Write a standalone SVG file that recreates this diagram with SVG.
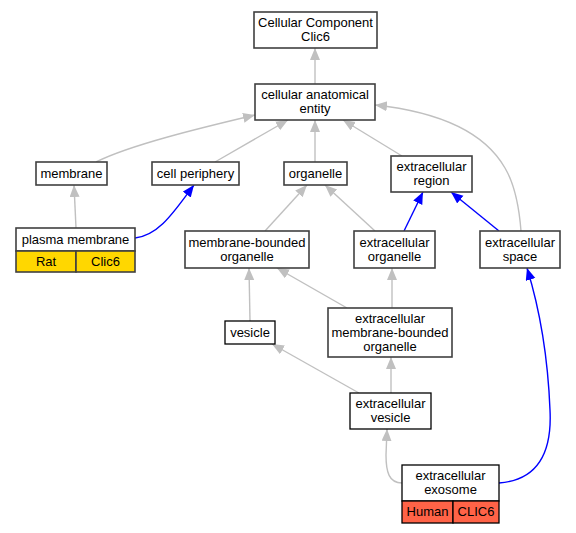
<svg xmlns="http://www.w3.org/2000/svg" width="576" height="533" viewBox="0 0 576 533">
<style>
  text { font-family: "Liberation Sans", Arial, sans-serif; font-size: 13px; fill: #000; text-anchor: middle; }
  .box { fill: #fff; stroke: #404040; stroke-width: 1.6; }
  .boxb { fill: #fff; stroke: #000; stroke-width: 1.3; }
  .gold { fill: #ffd700; stroke: #404040; stroke-width: 1.6; }
  .tom { fill: #ff6347; stroke: #000; stroke-width: 1.3; }
  .eg { fill: none; stroke: #c0c0c0; stroke-width: 1.4; marker-end: url(#ag); }
  .eb { fill: none; stroke: #0000ff; stroke-width: 1.4; marker-end: url(#ab); }
</style>
<defs>
  <marker id="ag" markerUnits="userSpaceOnUse" markerWidth="13" markerHeight="12" refX="12" refY="5" orient="auto">
    <path d="M0,0 L12,5 L0,10 z" fill="#c0c0c0"/>
  </marker>
  <marker id="ab" markerUnits="userSpaceOnUse" markerWidth="13" markerHeight="12" refX="12" refY="5" orient="auto">
    <path d="M0,0 L12,5 L0,10 z" fill="#0000ff"/>
  </marker>
</defs>
<rect width="576" height="533" fill="#fff"/>
<g id="edges">
  <path class="eg" d="M315,84 L315,48"/>
  <path class="eg" d="M96,162 C130,145 200,128 255,115"/>
  <path class="eg" d="M215,162 L288,120"/>
  <path class="eg" d="M315,162 L315,120"/>
  <path class="eg" d="M402,156 L343,120"/>
  <path class="eg" d="M521,231 C519,205 515,185 505,168 C485,133 440,112 375,105"/>
  <path class="eg" d="M76,228 L74,185"/>
  <path class="eb" d="M135,238 C160,235 175,210 194,185"/>
  <path class="eg" d="M265,231 L307,185"/>
  <path class="eg" d="M375,231 L325,185"/>
  <path class="eb" d="M404,231 L423,192"/>
  <path class="eb" d="M499,231 L451,192"/>
  <path class="eg" d="M250,321 L249,268"/>
  <path class="eg" d="M347,308 L277,268"/>
  <path class="eg" d="M392,308 L392,268"/>
  <path class="eg" d="M359,393 L272,344"/>
  <path class="eg" d="M391,393 L391,357"/>
  <path class="eg" d="M402,483 C389,483 386,472 386,455 L387,429"/>
  <path class="eb" d="M499,483 C540,480 552,450 550,410 C548,360 540,310 527,268"/>
</g>
<g id="n_cc">
  <rect class="box" x="254" y="12" width="123" height="36"/>
  <text x="315.5" y="27">Cellular Component</text>
  <text x="315.5" y="41">Clic6</text>
</g>
<g id="n_cae">
  <rect class="box" x="255" y="84" width="120" height="36"/>
  <text x="315" y="99">cellular anatomical</text>
  <text x="315" y="113">entity</text>
</g>
<g id="n_membrane">
  <rect class="box" x="36" y="162" width="71" height="23"/>
  <text x="71.5" y="178">membrane</text>
</g>
<g id="n_cellperiphery">
  <rect class="box" x="152" y="162" width="87" height="23"/>
  <text x="195.5" y="178">cell periphery</text>
</g>
<g id="n_organelle">
  <rect class="box" x="284" y="162" width="63" height="23"/>
  <text x="315.5" y="178">organelle</text>
</g>
<g id="n_extregion">
  <rect class="box" x="391" y="156" width="81" height="36"/>
  <text x="431.5" y="171">extracellular</text>
  <text x="431.5" y="185">region</text>
</g>
<g id="n_plasmamembrane">
  <rect class="box" x="16" y="228" width="119" height="23"/>
  <text x="75.5" y="244">plasma membrane</text>
  <rect class="gold" x="16" y="251" width="60" height="21"/>
  <rect class="gold" x="76" y="251" width="59" height="21"/>
  <text x="46" y="266">Rat</text>
  <text x="105.5" y="266">Clic6</text>
</g>
<g id="n_mbo">
  <rect class="box" x="185" y="231" width="124" height="37"/>
  <text x="247" y="247">membrane-bounded</text>
  <text x="247" y="261">organelle</text>
</g>
<g id="n_extorganelle">
  <rect class="box" x="354" y="231" width="81" height="37"/>
  <text x="394.5" y="247">extracellular</text>
  <text x="394.5" y="261">organelle</text>
</g>
<g id="n_extspace">
  <rect class="box" x="480" y="231" width="80" height="37"/>
  <text x="520" y="247">extracellular</text>
  <text x="520" y="261">space</text>
</g>
<g id="n_vesicle">
  <rect class="boxb" x="225" y="321" width="50" height="23"/>
  <text x="250" y="337">vesicle</text>
</g>
<g id="n_embo">
  <rect class="box" x="328" y="308" width="124" height="49"/>
  <text x="390" y="323">extracellular</text>
  <text x="390" y="337">membrane-bounded</text>
  <text x="390" y="351">organelle</text>
</g>
<g id="n_extvesicle">
  <rect class="boxb" x="350" y="393" width="81" height="36"/>
  <text x="390.5" y="408">extracellular</text>
  <text x="390.5" y="422">vesicle</text>
</g>
<g id="n_exosome">
  <rect class="boxb" x="402" y="465" width="97" height="36"/>
  <text x="450.5" y="480">extracellular</text>
  <text x="450.5" y="494">exosome</text>
  <rect class="tom" x="402" y="501" width="51" height="22"/>
  <rect class="tom" x="453" y="501" width="46" height="22"/>
  <text x="427.5" y="516">Human</text>
  <text x="476" y="516">CLIC6</text>
</g>
</svg>
